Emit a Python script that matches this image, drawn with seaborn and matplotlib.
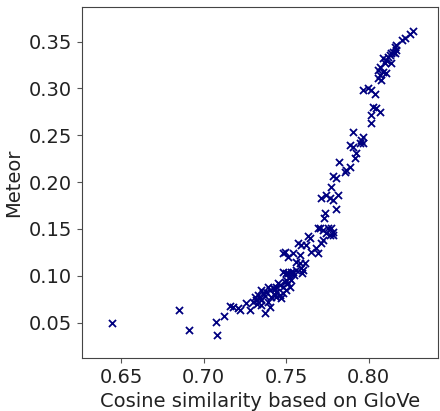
import matplotlib
matplotlib.use("Agg")
import matplotlib.pyplot as plt
import seaborn as sns
import pandas as pd

glove_cosine = [
    0.8268, 0.8250, 0.8219, 0.8205, 0.8169, 0.8158, 0.8169, 0.8148, 0.8138, 0.8158,
    0.8128, 0.8118, 0.8138, 0.8108, 0.8088, 0.8098, 0.8068, 0.8057, 0.8088, 0.8108,
    0.8068, 0.8057, 0.8078, 0.7966, 0.7996, 0.8017, 0.8037, 0.8027, 0.8047, 0.8068,
    0.8017, 0.8013, 0.7905, 0.7966, 0.7956, 0.7946, 0.7966, 0.7885, 0.7905, 0.7926,
    0.7916, 0.7820, 0.7885, 0.7865, 0.7855, 0.7784, 0.7805, 0.7774, 0.7744, 0.7714,
    0.7764, 0.7784, 0.7814, 0.7800, 0.7734, 0.7728, 0.7632, 0.7693, 0.7723, 0.7744,
    0.7774, 0.7784, 0.7703, 0.7754, 0.7764, 0.7784, 0.7643, 0.7572, 0.7592, 0.7623,
    0.7723, 0.7714, 0.7683, 0.7693, 0.7491, 0.7481, 0.7541, 0.7582, 0.7511, 0.7562,
    0.7582, 0.7612, 0.7592, 0.7481, 0.7501, 0.7532, 0.7562, 0.7602, 0.7598, 0.7653,
    0.7076, 0.7121, 0.7080, 0.7157, 0.7177, 0.7208, 0.7218, 0.7258, 0.7279, 0.7299,
    0.7319, 0.7339, 0.7309, 0.7329, 0.7359, 0.7370, 0.7400, 0.7350, 0.7390, 0.7380,
    0.7400, 0.7420, 0.7441, 0.7460, 0.7441, 0.7460, 0.7481, 0.7501, 0.7521, 0.7511,
    0.7491, 0.7532, 0.7471, 0.7410, 0.7430, 0.7511, 0.7541, 0.6445, 0.6850, 0.6910,
    0.7350, 0.7370, 0.7390, 0.7430, 0.7450, 0.7480, 0.7500, 0.7520, 0.7440, 0.7320,
    0.7350, 0.7550,
]
meteor = [
    0.3618, 0.3582, 0.3536, 0.3518, 0.3465, 0.3447, 0.3411, 0.3393, 0.3376, 0.3376,
    0.3358, 0.3340, 0.3276, 0.3305, 0.3323, 0.3269, 0.3233, 0.3198, 0.3180, 0.3162,
    0.3144, 0.3109, 0.3091, 0.2984, 0.3002, 0.2984, 0.2941, 0.2806, 0.2789, 0.2753,
    0.2717, 0.2628, 0.2539, 0.2486, 0.2450, 0.2415, 0.2415, 0.2397, 0.2379, 0.2308,
    0.2255, 0.2219, 0.2166, 0.2130, 0.2112, 0.2066, 0.2041, 0.1951, 0.1863, 0.1828,
    0.1828, 0.1810, 0.1863, 0.1710, 0.1667, 0.1614, 0.1425, 0.1507, 0.1489, 0.1454,
    0.1507, 0.1471, 0.1507, 0.1507, 0.1436, 0.1436, 0.1400, 0.1347, 0.1329, 0.1329,
    0.1383, 0.1347, 0.1294, 0.1240, 0.1257, 0.1240, 0.1240, 0.1222, 0.1204, 0.1151,
    0.1133, 0.1133, 0.1080, 0.1044, 0.1026, 0.1044, 0.1062, 0.1062, 0.1026, 0.1257,
    0.0511, 0.0572, 0.0367, 0.0678, 0.0670, 0.0653, 0.0635, 0.0706, 0.0635, 0.0723,
    0.0741, 0.0759, 0.0776, 0.0794, 0.0812, 0.0599, 0.0663, 0.0688, 0.0723, 0.0830,
    0.0848, 0.0866, 0.0884, 0.0901, 0.0830, 0.0794, 0.0812, 0.0848, 0.0884, 0.0919,
    0.0937, 0.0955, 0.0759, 0.0777, 0.0794, 0.1026, 0.1044, 0.0494, 0.0632, 0.0422,
    0.0850, 0.0780, 0.0880, 0.0860, 0.0920, 0.0880, 0.0960, 0.0980, 0.0770, 0.0700,
    0.0740, 0.1010,
]

df = pd.DataFrame({"glove": glove_cosine, "meteor": meteor})

sns.set_style("ticks")
plt.rcParams["font.family"] = ["DejaVu Sans"]

fig = plt.figure(figsize=(4.4, 4.11), dpi=100)
ax = fig.add_axes([0.186, 0.129, 0.809, 0.854])
sns.scatterplot(data=df, x="glove", y="meteor", marker="x", color="navy",
                s=26, linewidth=1.3, ax=ax)
ax.set_xlim(0.626, 0.842)
ax.set_ylim(0.0123, 0.387)
ax.set_xticks([0.65, 0.70, 0.75, 0.80])
ax.set_yticks([0.05, 0.10, 0.15, 0.20, 0.25, 0.30, 0.35])
ax.tick_params(labelsize=14, colors="#555555", labelcolor="#222222",
               length=3.5, width=0.8)
ax.set_xlabel("Cosine similarity based on GloVe", fontsize=14, color="#222222")
ax.set_ylabel("Meteor", fontsize=14, color="#222222")
for sp in ax.spines.values():
    sp.set_visible(True)
    sp.set_color("#444444")
fig.savefig("out.png", dpi=100)
